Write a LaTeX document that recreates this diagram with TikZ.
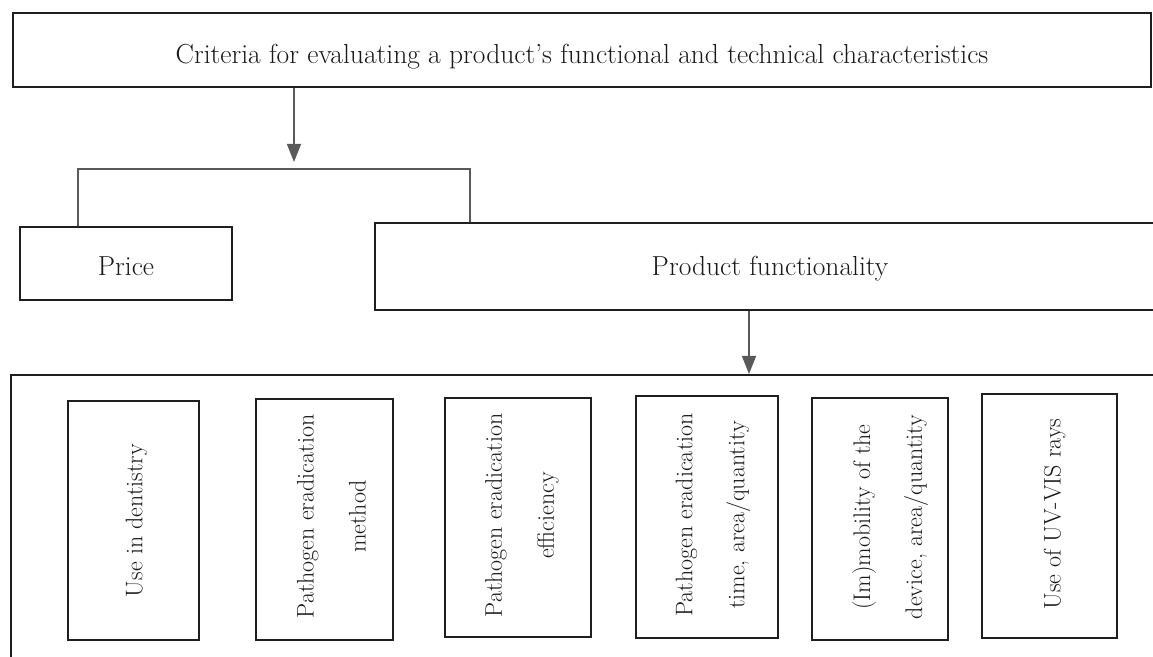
\documentclass[tikz,border=0pt]{standalone}
\usetikzlibrary{arrows.meta}
\begin{document}
\begin{tikzpicture}[x=1pt,y=1pt,
  frame/.style={draw=black!88, line width=2.2pt, inner sep=0pt},
  htext/.style={font=\fontsize{27.5}{30}\selectfont, text=black!90},
  vtext/.style={font=\fontsize{24}{52}\selectfont, text=black!90, rotate=90, align=center, inner sep=0pt},
  conn/.style={draw=black!65, line width=1.3pt},
  arr/.style={conn, -{Triangle[width=14pt,length=18pt]}}]
\useasboundingbox (0,0) rectangle (1153,656);
\clip (0,0) rectangle (1153,656);
\fill[white] (0,0) rectangle (1153,656);
% top level
\node[frame, htext, text height=28pt, text depth=0pt, minimum width=1138pt, minimum height=74pt] (top) at (582,606) {Criteria for evaluating a product's functional and technical characteristics};
% second level
\node[frame, htext, text height=25pt, text depth=0pt, minimum width=212pt, minimum height=73pt] (price) at (126,392.5) {Price};
\node[frame, htext, text height=22pt, text depth=4.6pt, minimum width=790pt, minimum height=87pt] (func) at (770,389.5) {Product functionality};
% container
\node[frame, minimum width=1160pt, minimum height=300pt, anchor=north west] (big) at (10,282) {};
% connectors
\coordinate (fork) at (294,494);
\draw[arr] (top.south -| fork) -- (fork);
\coordinate (bl) at (78,487);
\coordinate (br) at (470,487);
\draw[conn] (price.north -| bl) -- (bl) -- (br) -- (func.north -| br);
\coordinate (a2) at (749,300);
\draw[arr] (func.south -| a2) -- (big.north -| a2);
% criteria boxes
\node[frame, minimum width=131pt, minimum height=239pt] (b1) at (133.5,135.5) {};
\node[frame, minimum width=137pt, minimum height=241pt] (b2) at (324.5,136.5) {};
\node[frame, minimum width=146pt, minimum height=239pt] (b3) at (518,138.5) {};
\node[frame, minimum width=142pt, minimum height=242pt] (b4) at (707,139) {};
\node[frame, minimum width=136pt, minimum height=242pt] (b5) at (880,137) {};
\node[frame, minimum width=135pt, minimum height=244pt] (b6) at (1049.5,140) {};
\node[vtext] (t1) at ([xshift=3pt]b1.center) {Use in dentistry};
\node[vtext] (t2) at ([xshift=7pt,yshift=3pt]b2.center) {Pathogen eradication\\method};
\node[vtext] (t3) at ([xshift=4pt,yshift=2pt]b3.center) {Pathogen eradication\\efficiency};
\node[vtext] (t4) at ([xshift=6pt,yshift=2pt]b4.center) {Pathogen eradication\\time, area/quantity};
\node[vtext] (t5) at ([xshift=10pt,yshift=2pt]b5.center) {(Im)mobility of the\\device, area/quantity};
\node[vtext] (t6) at ([xshift=5pt,yshift=2pt]b6.center) {Use of UV-VIS rays};
\end{tikzpicture}
\end{document}
